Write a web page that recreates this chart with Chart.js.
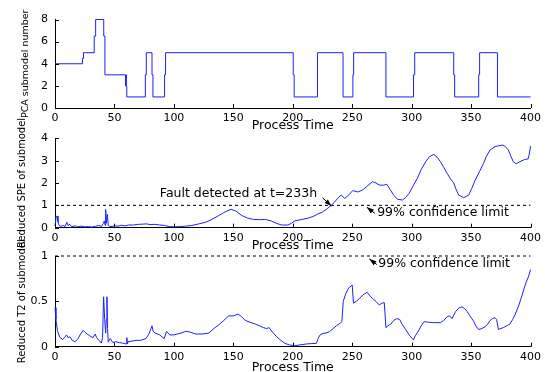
<!DOCTYPE html>
<html>
<head>
<meta charset="utf-8">
<script src="https://cdn.jsdelivr.net/npm/chart.js@4.4.0/dist/chart.umd.min.js"></script>
<style>
  html, body { margin: 0; padding: 0; background: #fff; overflow: hidden; }
  #wrap { position: relative; width: 545px; height: 372px; }
  canvas { position: absolute; left: 0; top: 0; }
</style>
</head>
<body>
<div id="wrap">
  <canvas id="pcaChart" width="545" height="372"></canvas>
  <canvas id="speChart" width="545" height="372"></canvas>
  <canvas id="t2Chart" width="545" height="372"></canvas>
</div>
<script>
// submodel number, value holds from each time until the next one
const modelTimes = [0, 23.1, 24, 33, 34.2, 41, 42, 59.3, 59.7, 60, 60.4, 76, 76.8, 81.6, 82.4, 92.2, 93,
  200.4, 201.2, 220.8, 242.3, 250.6, 251.2, 278.4, 301.6, 302.6, 335.4, 336.2, 356.4, 357.2, 372.2, 400];
const modelIds = [4, 4.5, 5, 6.5, 8, 6.5, 3, 2, 3, 2, 1, 3, 5, 3, 1, 3, 5,
  3, 1, 5, 1, 3, 5, 1, 3, 5, 3, 1, 3, 5, 1, 1];

const speTimes = [0, 1, 1.8, 2.5, 3.5, 5, 7, 8.5, 10, 11, 12.5, 14, 17, 19, 22, 25, 28, 31, 34, 37, 39,
  40.5, 41.5, 42.2, 42.6, 43.2, 44, 44.8, 46, 48, 50, 53, 56, 59, 62, 66, 70, 74, 77, 80, 84, 88, 92, 96,
  100, 105, 110, 115, 121, 127, 132, 137, 142, 148, 152, 157, 162, 167, 172, 177, 182, 186, 190.7, 196,
  199, 201.8, 207, 213, 217, 221, 225, 229, 232.5, 236, 238.5, 240.8, 243.6, 246.3, 250.5, 254.7, 258.9,
  263, 267.2, 270, 272.8, 276, 279.2, 282, 285, 288.1, 292.3, 295, 297.9, 301, 304.8, 308, 311.8, 315,
  318.7, 321.5, 324.3, 327, 329.9, 332.5, 335.4, 337.5, 339.6, 343.8, 348, 350.5, 353.5, 357, 360.5, 363,
  366, 370.2, 373, 376.6, 379, 381.4, 383.5, 385.5, 388, 391, 395, 398, 399, 400];
const speValues = [0.08, 0.5, 0.52, 0.25, 0.1, 0.06, 0.1, 0.05, 0.24, 0.1, 0.15, 0.05, 0.08, 0.04, 0.07,
  0.04, 0.05, 0.03, 0.06, 0.1, 0.05, 0.18, 0.3, 0.1, 0.82, 0.2, 0.6, 0.1, 0.06, 0.05, 0.09, 0.07, 0.11,
  0.08, 0.12, 0.12, 0.15, 0.16, 0.17, 0.14, 0.15, 0.12, 0.1, 0.05, 0.04, 0.05, 0.07, 0.1, 0.17, 0.25, 0.37,
  0.52, 0.68, 0.82, 0.75, 0.55, 0.43, 0.37, 0.36, 0.37, 0.3, 0.2, 0.12, 0.12, 0.2, 0.31, 0.36, 0.43, 0.5,
  0.61, 0.7, 0.85, 1.0, 1.2, 1.35, 1.46, 1.31, 1.42, 1.66, 1.6, 1.69, 1.88, 2.06, 2.0, 1.91, 1.9, 1.94,
  1.7, 1.45, 1.27, 1.24, 1.35, 1.54, 1.85, 2.21, 2.6, 2.95, 3.18, 3.28, 3.15, 2.95, 2.7, 2.43, 2.2, 2.0,
  1.7, 1.46, 1.34, 1.46, 1.75, 2.13, 2.5, 2.88, 3.2, 3.48, 3.63, 3.66, 3.7, 3.62, 3.48, 3.2, 2.95, 2.86,
  2.95, 3.05, 3.08, 3.3, 3.65];

const t2Times = [0, 0.8, 2, 3, 4.2, 6.4, 8, 9.7, 11, 12.5, 14.5, 16.7, 19, 21.5, 23.7, 26, 29.2, 32, 33.8,
  35, 37, 39, 40, 40.9, 41.8, 42.6, 43.1, 43.7, 44.2, 44.8, 46.5, 48.7, 51, 54.3, 57, 59.8, 60.4, 61, 61.5,
  64, 68.2, 72, 76.5, 79, 81.6, 82.5, 84.3, 88, 91.9, 93.8, 96.6, 100, 103, 106, 110, 114, 118.3, 124,
  129.4, 133.6, 137.8, 142, 146.2, 150, 154, 157, 160.1, 164, 168.4, 172, 175.4, 178, 180.1, 183, 186.5,
  190, 193.5, 197, 201.8, 206, 211.6, 216, 219.9, 221.3, 223, 225.5, 228, 231, 234, 236.6, 239, 241.3,
  242.5, 244.5, 246.3, 248, 250, 251.1, 253.5, 256, 258.9, 262.5, 265, 267.2, 270, 272.8, 275, 277, 278.4,
  280, 282.5, 285, 287.6, 290, 292.3, 295, 297.9, 301.5, 303, 305.4, 308, 310.4, 314, 318.7, 324.3, 327,
  329.9, 332, 334, 336.9, 340, 342.4, 344.5, 346.6, 349, 352.2, 354, 356.3, 359, 361.9, 364, 366, 368,
  370.2, 371.5, 373, 377.1, 380, 382.7, 385, 386.9, 390, 393, 396, 398.5, 400];
const t2Values = [0.43, 0.3, 0.18, 0.14, 0.1, 0.08, 0.1, 0.13, 0.1, 0.11, 0.07, 0.056, 0.08, 0.14, 0.18,
  0.15, 0.12, 0.1, 0.14, 0.1, 0.07, 0.04, 0.1, 0.55, 0.3, 0.15, 0.3, 0.55, 0.2, 0.05, 0.09, 0.045, 0.055,
  0.045, 0.04, 0.03, 0.1, 0.03, 0.055, 0.06, 0.07, 0.07, 0.09, 0.14, 0.23, 0.17, 0.15, 0.13, 0.09, 0.17,
  0.13, 0.13, 0.14, 0.15, 0.17, 0.16, 0.14, 0.14, 0.15, 0.2, 0.24, 0.29, 0.34, 0.34, 0.36, 0.33, 0.29,
  0.27, 0.25, 0.23, 0.21, 0.2, 0.21, 0.16, 0.11, 0.07, 0.036, 0.02, 0.01, 0.02, 0.03, 0.035, 0.037, 0.09,
  0.13, 0.147, 0.15, 0.166, 0.2, 0.23, 0.25, 0.276, 0.5, 0.58, 0.63, 0.66, 0.68, 0.48, 0.5, 0.53, 0.57,
  0.6, 0.56, 0.53, 0.5, 0.46, 0.48, 0.485, 0.21, 0.23, 0.25, 0.29, 0.31, 0.3, 0.24, 0.19, 0.13, 0.074,
  0.12, 0.165, 0.23, 0.276, 0.27, 0.265, 0.265, 0.29, 0.33, 0.34, 0.31, 0.386, 0.43, 0.44, 0.42, 0.39,
  0.34, 0.28, 0.23, 0.19, 0.2, 0.22, 0.25, 0.29, 0.31, 0.32, 0.3, 0.19, 0.21, 0.23, 0.25, 0.3, 0.35, 0.45,
  0.57, 0.7, 0.78, 0.85];

const limitTimes = [0, 400];
const limitValues = [1, 1];

const FONT = 'DejaVu Sans';
const BLUE = 'rgb(30,30,255)';

function pts(xs, ys) {
  return xs.map((x, i) => ({ x: x, y: ys[i] }));
}

// inward tick marks plus the text/arrow notes
const panelMarks = {
  id: 'panelMarks',
  afterDatasetsDraw(chart, args, opts) {
    const ctx = chart.ctx;
    const xs = chart.scales.x, ys = chart.scales.y;
    ctx.save();
    ctx.strokeStyle = '#000';
    ctx.lineWidth = 1;
    ctx.beginPath();
    xs.ticks.forEach((t, i) => {
      const px = Math.round(xs.getPixelForTick(i)) + 0.5;
      ctx.moveTo(px, xs.top);
      ctx.lineTo(px, xs.top - 4);
    });
    ys.ticks.forEach((t, i) => {
      const py = Math.round(ys.getPixelForTick(i)) + 0.5;
      ctx.moveTo(ys.right, py);
      ctx.lineTo(ys.right + 4, py);
    });
    ctx.stroke();

    (opts.notes || []).forEach(n => {
      ctx.fillStyle = '#000';
      ctx.font = '12.5px "' + FONT + '"';
      ctx.textAlign = n.align;
      ctx.textBaseline = 'middle';
      ctx.fillText(n.text, xs.getPixelForValue(n.at[0]), ys.getPixelForValue(n.at[1]));
      const x0 = xs.getPixelForValue(n.from[0]), y0 = ys.getPixelForValue(n.from[1]);
      const x1 = xs.getPixelForValue(n.to[0]), y1 = ys.getPixelForValue(n.to[1]);
      const a = Math.atan2(y1 - y0, x1 - x0);
      ctx.beginPath();
      ctx.moveTo(x0, y0);
      ctx.lineTo(x1, y1);
      ctx.stroke();
      ctx.beginPath();
      ctx.moveTo(x1, y1);
      ctx.lineTo(x1 - 7 * Math.cos(a) + 2.5 * Math.sin(a), y1 - 7 * Math.sin(a) - 2.5 * Math.cos(a));
      ctx.lineTo(x1 - 7 * Math.cos(a) - 2.5 * Math.sin(a), y1 - 7 * Math.sin(a) + 2.5 * Math.cos(a));
      ctx.closePath();
      ctx.fill();
    });
    ctx.restore();
  }
};

function makePanel(id, cfg) {
  const datasets = [{
    data: cfg.data,
    borderColor: BLUE,
    borderWidth: 1,
    pointRadius: 0,
    stepped: cfg.stepped || false,
    tension: 0,
    clip: 4
  }];
  if (cfg.limit) {
    datasets.push({
      data: pts(limitTimes, limitValues),
      borderColor: '#000',
      borderWidth: 1,
      borderDash: [3, 3],
      pointRadius: 0,
      clip: 4
    });
  }
  return new Chart(document.getElementById(id), {
    type: 'line',
    data: { datasets: datasets },
    options: {
      responsive: false,
      animation: false,
      events: [],
      layout: { padding: { top: cfg.top, right: 11, left: 0, bottom: cfg.bottom } },
      plugins: {
        legend: { display: false },
        tooltip: { enabled: false },
        panelMarks: { notes: cfg.notes || [] }
      },
      scales: {
        x: {
          type: 'linear', min: 0, max: 400,
          grid: { display: false, drawTicks: false },
          border: { display: true, color: '#000', width: 1 },
          ticks: { stepSize: 50, padding: 4, color: '#000', font: { family: FONT, size: 11 },
            callback: v => String(v), maxRotation: 0 },
          title: { display: true, text: 'Process Time', color: '#000',
            font: { family: FONT, size: 12.5, lineHeight: 0.6 }, padding: 0 },
          afterFit: s => { s.height = cfg.axisH; }
        },
        y: {
          min: cfg.yMin, max: cfg.yMax,
          grid: { display: false, drawTicks: false },
          border: { display: true, color: '#000', width: 1 },
          ticks: { stepSize: cfg.yStep, padding: 7, color: '#000', font: { family: FONT, size: 11 },
            callback: v => String(v) },
          title: { display: true, text: cfg.yTitle, color: '#000',
            font: { family: FONT, size: cfg.yTitleSize, lineHeight: 1.2 },
            padding: { top: cfg.yTitlePad, bottom: 0 } },
          afterFit: s => { s.width = 55; }
        }
      }
    },
    plugins: [panelMarks]
  });
}

makePanel('pcaChart', {
  data: pts(modelTimes, modelIds), stepped: 'before',
  top: 19.5, bottom: 242.25, axisH: 21.75,
  yMin: 0, yMax: 8, yStep: 2,
  yTitle: 'PCA submodel number', yTitleSize: 9.5, yTitlePad: 20
});

makePanel('speChart', {
  data: pts(speTimes, speValues), limit: true,
  top: 138.3, bottom: 122.3, axisH: 22,
  yMin: 0, yMax: 4, yStep: 1,
  yTitle: 'Reduced SPE of submodel', yTitleSize: 10, yTitlePad: 16.5,
  notes: [
    { text: 'Fault detected at t=233h', align: 'right', at: [220.5, 1.5], from: [225, 1.34], to: [232.5, 0.97] },
    { text: '99% confidence limit', align: 'left', at: [271, 0.67], from: [269.1, 0.64], to: [262.3, 0.92] }
  ]
});

makePanel('t2Chart', {
  data: pts(t2Times, t2Values), limit: true,
  top: 256, bottom: 0.3, axisH: 25,
  yMin: 0, yMax: 1, yStep: 0.5,
  yTitle: 'Reduced T2 of submodel', yTitleSize: 10, yTitlePad: 16.5,
  notes: [
    { text: '99% confidence limit', align: 'left', at: [272, 0.91], from: [270.8, 0.905], to: [264.5, 0.968] }
  ]
});
</script>
</body>
</html>
